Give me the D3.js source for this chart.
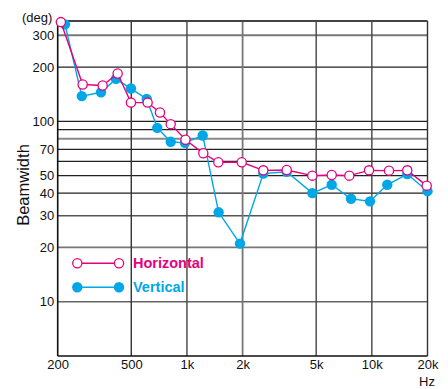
<!DOCTYPE html>
<html>
<head>
<meta charset="utf-8">
<script src="https://cdn.jsdelivr.net/npm/d3@7"></script>
<style>
  html, body { margin: 0; padding: 0; background: #fff; }
  svg { display: block; font-family: "Liberation Sans", Arial, sans-serif; }
</style>
</head>
<body>
<svg id="chart" width="448" height="389"></svg>
<script>
// Beamwidth vs. frequency, horizontal and vertical planes
const horizFreq = [208, 273, 350, 422, 498, 613, 715, 817, 982, 1226, 1478, 1978, 2588, 3464, 4765, 6068, 7552, 9656, 12380, 15548, 19800];
const horizDeg  = [355, 160, 158, 184, 127, 127, 112, 96.5, 79, 66.5, 59.3, 59.3, 53.5, 53.7, 50, 50.4, 50, 53.5, 53.3, 53.5, 44];

const vertFreq = [219, 270, 343, 413, 498, 606, 691, 817, 976, 1217, 1484, 1936, 2588, 3464, 4765, 6068, 7716, 9774, 12120, 15548, 20000];
const vertDeg  = [345, 138, 145, 172, 152, 133, 92, 77, 76, 83.5, 31.3, 21, 51.3, 52.5, 40, 44.5, 37.2, 36, 44.5, 51, 41];

const xTicks = [200, 500, 1000, 2000, 5000, 10000, 20000];
const xTickLabels = ["200", "500", "1k", "2k", "5k", "10k", "20k"];
const yTicks = [300, 200, 100, 70, 50, 40, 30, 20, 10];

// grid: [value, colour, width]
const hGrid = [
  [300, "#777", 2], [200, "#222", 1.3], [100, "#222", 1.3], [90, "#222", 1.3],
  [80, "#888", 2], [70, "#222", 1.3], [60, "#222", 1.3], [50, "#222", 1.3],
  [40, "#222", 1.3], [30, "#555", 1.5], [20, "#777", 1.8], [10, "#666", 1.6]
];
const vGrid = [[500, "#333", 1.4], [1000, "#444", 1.4], [2000, "#777", 1.8], [5000, "#444", 1.4], [10000, "#444", 1.4]];

const series = [
  { name: "Horizontal", freq: horizFreq, deg: horizDeg, color: "#e6007e", open: true },
  { name: "Vertical", freq: vertFreq, deg: vertDeg, color: "#00a7e6", open: false }
];

const plotLeft = 57.7, plotRight = 427.5, plotTop = 21, plotBottom = 356;
const x = d3.scaleLog().domain([200, 20000]).range([plotLeft, plotRight]);
const y = d3.scaleLog().domain([5, 360]).range([plotBottom, plotTop]);

const svg = d3.select("#chart");

// horizontal grid lines
svg.append("g").selectAll("line").data(hGrid).join("line")
  .attr("x1", plotLeft).attr("x2", plotRight)
  .attr("y1", d => y(d[0])).attr("y2", d => y(d[0]))
  .attr("stroke", d => d[1]).attr("stroke-width", d => d[2]);

// vertical grid lines
svg.append("g").selectAll("line").data(vGrid).join("line")
  .attr("y1", plotTop).attr("y2", plotBottom)
  .attr("x1", d => x(d[0])).attr("x2", d => x(d[0]))
  .attr("stroke", d => d[1]).attr("stroke-width", d => d[2]);

// frame
svg.append("line").attr("x1", plotLeft).attr("x2", plotRight).attr("y1", plotTop).attr("y2", plotTop)
  .attr("stroke", "#444").attr("stroke-width", 1.8);
svg.append("line").attr("x1", plotRight).attr("x2", plotRight).attr("y1", plotTop).attr("y2", plotBottom)
  .attr("stroke", "#333").attr("stroke-width", 1.4);
svg.append("line").attr("x1", plotLeft).attr("x2", plotLeft).attr("y1", plotTop).attr("y2", plotBottom)
  .attr("stroke", "#111").attr("stroke-width", 1.6);
svg.append("line").attr("x1", plotLeft).attr("x2", plotRight).attr("y1", plotBottom).attr("y2", plotBottom)
  .attr("stroke", "#111").attr("stroke-width", 1.6);

// y axis labels
const yAxis = d3.axisLeft(y).tickValues(yTicks).tickSize(0).tickPadding(3.5).tickFormat(d3.format("d"));
const gy = svg.append("g").attr("transform", `translate(${plotLeft},0)`).call(yAxis);
gy.select(".domain").remove();
gy.selectAll("text").attr("font-size", 13).attr("fill", "#111")
  .attr("font-family", "'Liberation Sans', Arial, sans-serif");

// x axis labels
const xAxis = d3.axisBottom(x).tickValues(xTicks).tickSize(0).tickPadding(4)
  .tickFormat((d, i) => xTickLabels[i]);
const gx = svg.append("g").attr("transform", `translate(0,${plotBottom})`).call(xAxis);
gx.select(".domain").remove();
gx.selectAll("text").attr("font-size", 13).attr("fill", "#111")
  .attr("font-family", "'Liberation Sans', Arial, sans-serif");

// unit and axis titles
svg.append("text").attr("x", 22).attr("y", 22).attr("font-size", 13).attr("fill", "#111").text("(deg)");
svg.append("text").attr("x", 427).attr("y", 386).attr("text-anchor", "middle")
  .attr("font-size", 13).attr("fill", "#111").text("Hz");
svg.append("text").attr("transform", "translate(29,185) rotate(-90)")
  .attr("text-anchor", "middle").attr("font-size", 16.5).attr("fill", "#111").text("Beamwidth");

// series lines and markers (vertical drawn first, horizontal on top)
const line = d3.line().x(d => x(d[0])).y(d => y(d[1]));
[series[1], series[0]].forEach(s => {
  const pts = s.freq.map((f, i) => [f, s.deg[i]]);
  svg.append("path").datum(pts).attr("d", line)
    .attr("fill", "none").attr("stroke", s.color).attr("stroke-width", 1.4);
  svg.append("g").selectAll("circle").data(pts).join("circle")
    .attr("cx", d => x(d[0])).attr("cy", d => y(d[1]))
    .attr("r", s.open ? 4.6 : 5.2)
    .attr("fill", s.open ? "#fff" : s.color)
    .attr("stroke", s.color).attr("stroke-width", s.open ? 1.3 : 0);
});

// legend
const legend = svg.append("g");
series.forEach((s, i) => {
  const ly = 263.3 + i * 24;
  legend.append("line").attr("x1", 77.3).attr("x2", 119).attr("y1", ly).attr("y2", ly)
    .attr("stroke", s.color).attr("stroke-width", 1.4);
  [77.3, 119].forEach(cx => legend.append("circle").attr("cx", cx).attr("cy", ly)
    .attr("r", s.open ? 4.6 : 5.2).attr("fill", s.open ? "#fff" : s.color)
    .attr("stroke", s.color).attr("stroke-width", s.open ? 1.3 : 0));
  legend.append("text").attr("x", 133).attr("y", ly + 5).attr("font-size", 14.5)
    .attr("font-weight", "bold").attr("fill", s.color).text(s.name);
});
</script>
</body>
</html>
